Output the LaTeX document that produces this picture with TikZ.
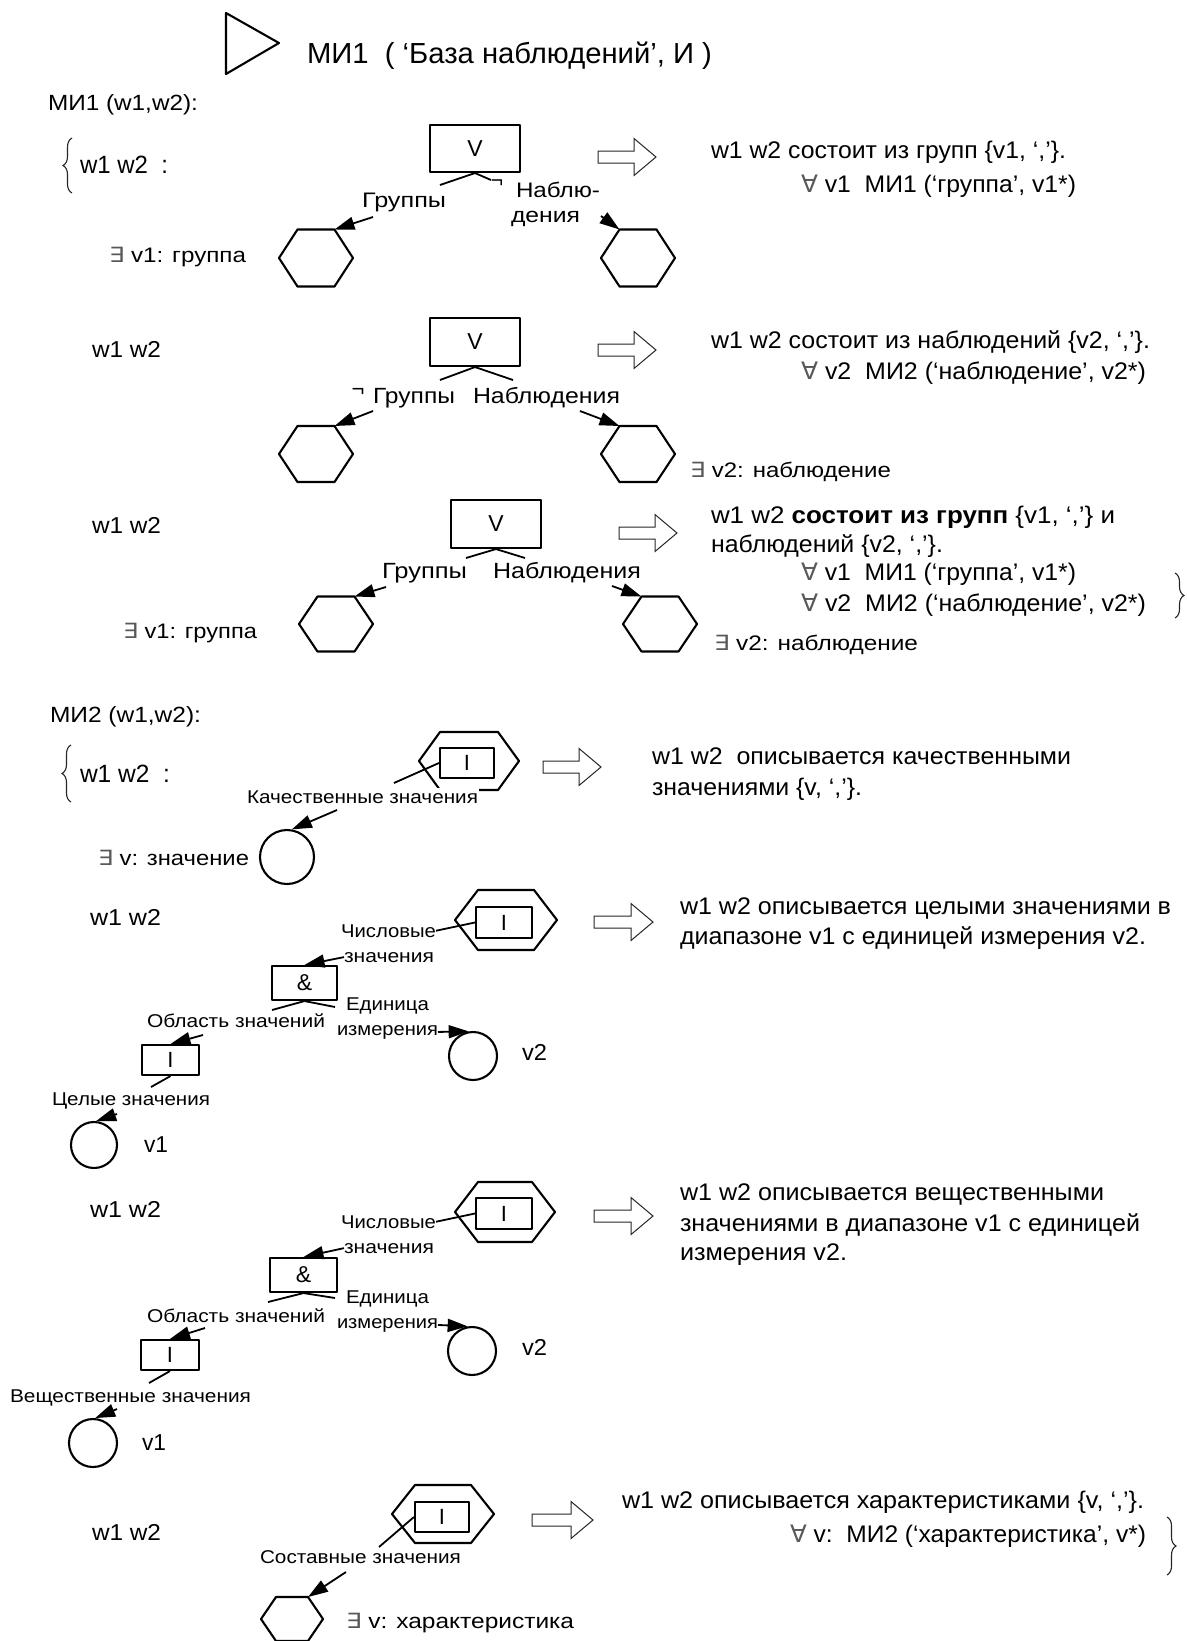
\documentclass[tikz,border=0pt]{standalone}
\usepackage{graphicx}
\usepackage{fontspec}
\setmainfont{Liberation Sans}
\newfontfamily\djvfont{DejaVu Sans}
\usetikzlibrary{arrows.meta,calc,decorations.pathreplacing}

\newcommand\myfs[1]{\fontsize{#1}{#1}\selectfont}
\newcommand\mytx[2]{\resizebox{#1pt}{\height}{#2}}
\newcommand\myEX{{\djvfont\color{black!65}∃}}
\newcommand\myFA{{\djvfont\color{black!65}∀}}

% name, cx, cy, w, h, slant
\newcommand\myhex[6]{%
  \coordinate (#1) at (#2,#3);
  \coordinate (#1-w) at ($(#1)+(-#4/2,0)$);
  \coordinate (#1-tl) at ($(#1)+(-#4/2+#6,-#5/2)$);
  \coordinate (#1-tr) at ($(#1)+(#4/2-#6,-#5/2)$);
  \coordinate (#1-e) at ($(#1)+(#4/2,0)$);
  \coordinate (#1-br) at ($(#1)+(#4/2-#6,#5/2)$);
  \coordinate (#1-bl) at ($(#1)+(-#4/2+#6,#5/2)$);
  \draw[shp] (#1-w) -- (#1-tl) -- (#1-tr) -- (#1-e) -- (#1-br) -- (#1-bl) -- cycle;}

% name, xtail, xtip, yc
\newcommand\myarr[4]{%
  \coordinate (#1) at (#2,#4);
  \draw[hollow] (#2,#4-6) -- (#3-22,#4-6) -- (#3-22,#4-18.5) -- (#3,#4)
     -- (#3-22,#4+18.5) -- (#3-22,#4+6) -- (#2,#4+6) -- cycle;}

\begin{document}
\begin{tikzpicture}[x=1pt,y=-1pt,
  shp/.style={draw=black, line width=2.1pt, line join=round},
  box/.style={shp, rectangle, inner sep=0pt},
  conn/.style={line width=1.8pt},
  arr/.style={conn, -{Triangle[length=20pt,width=13pt]}},
  hollow/.style={line width=1pt, draw=black!85, fill=white, line join=miter},
  txt/.style={inner sep=0pt, outer sep=0pt, anchor=base west},
  brc/.style={decorate, decoration={brace, amplitude=9pt}, line width=1.1pt, draw=black!85},
  circ/.style={shp, circle, inner sep=0pt}
]
\useasboundingbox (0,0) rectangle (1186,1641);
\clip (0,0) rectangle (1186,1641);

% ---------------- header
\draw[shp] (226,13) -- (226,74) -- (279,43) -- cycle;
\node[txt] (title) at (307,63) {\myfs{29}\mytx{405}{МИ1\ \ (\ ‘База наблюдений’, И\ )}};

% ---------------- section 1
\node[txt] (mi1) at (48,110) {\myfs{22}\mytx{150}{МИ1 (w1,w2):}};
\draw[brc] (72,193) -- (72,138);
\node[txt] (w1a) at (80,173) {\myfs{25}\mytx{88}{w1 w2\ \ :}};
\node[box, minimum width=90, minimum height=47] (V1) at (475,148.5) {\myfs{23}V};
\coordinate (V1l) at (440,185);
\coordinate (V1r) at (491,180);
\draw[conn] (V1.south) -- (V1l);
\draw[conn] (V1.south) -- (V1r);
\node[txt] (g1) at (362,207) {\myfs{21}\mytx{84}{Группы}};
\node[inner sep=0pt] (neg1) at (497,184) {\myfs{21}¬};
\node[txt] (n1a) at (516,197) {\myfs{21}\mytx{84}{Наблю-}};
\node[txt] (n1b) at (511,222) {\myfs{21}\mytx{69}{дения}};
\myhex{H1L}{316}{258}{74}{57}{18.5}
\myhex{H1R}{638}{258}{74}{57}{18.5}
\coordinate (a1s) at (373,217);
\draw[arr] (a1s) -- (H1L-tr);
\coordinate (a1t) at (601,216);
\draw[arr] (a1t) -- (H1R-tl);
\node[txt] (e1) at (109,262) {\myfs{21}\mytx{137}{\myEX\ v1: группа}};
\myarr{A1}{598}{656}{157}
\node[txt] (r1a) at (711,158) {\myfs{24}\mytx{355}{w1 w2 состоит из групп \{v1, ‘,’\}.}};
\node[txt] (r1b) at (801,192) {\myfs{24}\mytx{275}{\myFA\ v1\ \ МИ1 (‘группа’, v1*)}};

% ---------------- section 2
\node[txt] (w2) at (92,357) {\myfs{23}\mytx{69}{w1 w2}};
\node[box, minimum width=90, minimum height=48] (V2) at (475,342) {\myfs{23}V};
\coordinate (V2l) at (440,380);
\coordinate (V2r) at (513,380);
\draw[conn] (V2.south) -- (V2l);
\draw[conn] (V2.south) -- (V2r);
\node[inner sep=0pt] (neg2) at (358,392) {\myfs{22}¬};
\node[txt] (g2) at (373,403) {\myfs{22}\mytx{82}{Группы}};
\node[txt] (n2) at (473,403) {\myfs{22}\mytx{147}{Наблюдения}};
\myhex{H2L}{316}{454}{74}{56}{18.5}
\myhex{H2R}{638}{454}{74}{56}{18.5}
\coordinate (a2s) at (373,411);
\draw[arr] (a2s) -- (H2L-tr);
\coordinate (a2t) at (580,411);
\draw[arr] (a2t) -- (H2R-tl);
\node[txt] (e2) at (690,477) {\myfs{21}\mytx{201}{\myEX\ v2: наблюдение}};
\myarr{A2}{598}{656}{350}
\node[txt] (r2a) at (711,348) {\myfs{24}\mytx{439}{w1 w2 состоит из наблюдений \{v2, ‘,’\}.}};
\node[txt] (r2b) at (801,379) {\myfs{24}\mytx{345}{\myFA\ v2\ \ МИ2 (‘наблюдение’, v2*)}};

% ---------------- section 3
\node[txt] (w3) at (92,533) {\myfs{23}\mytx{69}{w1 w2}};
\node[box, minimum width=90, minimum height=48] (V3) at (496,524) {\myfs{23}V};
\coordinate (V3l) at (466,558);
\coordinate (V3r) at (525,558);
\draw[conn] (V3.south) -- (V3l);
\draw[conn] (V3.south) -- (V3r);
\node[txt] (g3) at (382,578) {\myfs{22}\mytx{85}{Группы}};
\node[txt] (n3) at (493,578) {\myfs{22}\mytx{148}{Наблюдения}};
\myhex{H3L}{336}{624}{74}{55}{18.5}
\myhex{H3R}{660}{624}{74}{55}{18.5}
\coordinate (a3s) at (386,587);
\draw[arr] (a3s) -- (H3L-tr);
\coordinate (a3t) at (612,586);
\draw[arr] (a3t) -- (H3R-tl);
\node[txt] (e3a) at (123,638) {\myfs{21}\mytx{134}{\myEX\ v1: группа}};
\node[txt] (e3b) at (714,650) {\myfs{21}\mytx{204}{\myEX\ v2: наблюдение}};
\myarr{A3}{619}{677}{533}
\node[txt] (r3a) at (711,523) {\myfs{24}\mytx{404}{w1 w2 \textbf{состоит из групп} \{v1, ‘,’\} и}};
\node[txt] (r3b) at (711,552) {\myfs{24}\mytx{232}{наблюдений \{v2, ‘,’\}.}};
\node[txt] (r3c) at (801,580) {\myfs{24}\mytx{275}{\myFA\ v1\ \ МИ1 (‘группа’, v1*)}};
\node[txt] (r3d) at (801,611) {\myfs{24}\mytx{345}{\myFA\ v2\ \ МИ2 (‘наблюдение’, v2*)}};
\draw[brc] (1175,573) -- (1175,618);

% ---------------- MI2 header, qualitative
\node[txt] (mi2) at (50,722) {\myfs{22}\mytx{151}{МИ2 (w1,w2):}};
\draw[brc] (71,802) -- (71,745);
\node[txt] (w4a) at (80,782) {\myfs{25}\mytx{90}{w1 w2\ \ :}};
\myhex{HK}{469}{761}{100}{58}{21}
\node[box, minimum width=54, minimum height=30] (IK) at (467,763) {\myfs{22}I};
\coordinate (kL) at (394,783);
\draw[conn] (IK.west) -- (kL);
\node[txt, fill=white, inner ysep=2.5pt, inner xsep=1pt] (kq) at (246,803) {\myfs{18.5}\mytx{231}{Качественные значения}};
\node[circ, minimum size=54] (cK) at (287,857) {};
\coordinate (ks) at (337,810);
\draw[arr] (ks) -- (cK.80);
\node[txt] (ev) at (98,865) {\myfs{21}\mytx{151}{\myEX\ v: значение}};
\myarr{AK}{543}{601}{767}
\node[txt] (rk1) at (652,764) {\myfs{24}\mytx{419}{w1 w2\ \ описывается качественными}};
\node[txt] (rk2) at (652,795) {\myfs{24}\mytx{210}{значениями \{v, ‘,’\}.}};

% ---------------- integer values
\node[txt] (w5) at (90,925) {\myfs{23}\mytx{71}{w1 w2}};
\myhex{HC}{506}{920}{102}{60}{23}
\node[box, minimum width=56, minimum height=31] (IC) at (504,922.5) {\myfs{22}I};
\node[txt] (ch4) at (341,937) {\myfs{18.5}\mytx{95}{Числовые}};
\draw[conn] (ch4.east) -- (IC.west);
\node[txt] (zn4) at (344,962) {\myfs{18.5}\mytx{90}{значения}};
\node[box, minimum width=65, minimum height=34] (and4) at (304.5,983) {\myfs{23}\&};
\draw[arr] (zn4.west) -- (and4.north);
\coordinate (and4l) at (272,1010);
\coordinate (and4r) at (335,1007);
\draw[conn] (and4.south) -- (and4l);
\draw[conn] (and4.south) -- (and4r);
\node[txt] (ed4) at (346,1010) {\myfs{18.5}\mytx{83}{Единица}};
\node[txt] (iz4) at (337,1035) {\myfs{18.5}\mytx{101}{измерения}};
\node[circ, minimum size=48] (c42) at (473,1056) {};
\draw[arr] (iz4.east) -- (c42.100);
\node[txt] (v24) at (522,1060) {\myfs{23}\mytx{25}{v2}};
\node[txt] (ob4) at (147,1027) {\myfs{18.5}\mytx{178}{Область значений}};
\node[box, minimum width=57, minimum height=30] (I4) at (170.5,1060) {\myfs{22}I};
\coordinate (ob4s) at (203,1035);
\draw[arr] (ob4s) -- (I4.north);
\coordinate (I4l) at (151,1087);
\draw[conn] (I4.south) -- (I4l);
\node[txt] (cz4) at (52,1105) {\myfs{18.5}\mytx{158}{Целые значения}};
\node[circ, minimum size=46] (c41) at (94,1145) {};
\coordinate (cz4s) at (117,1114);
\draw[arr] (cz4s) -- (c41.85);
\node[txt] (v14) at (144,1152) {\myfs{23}\mytx{24}{v1}};
\myarr{AC}{594}{653}{922}
\node[txt] (rc1) at (680,914) {\myfs{24}\mytx{491}{w1 w2 описывается целыми значениями в}};
\node[txt] (rc2) at (680,944) {\myfs{24}\mytx{466}{диапазоне v1 с единицей измерения v2.}};

% ---------------- real values
\node[txt] (w6) at (90,1217) {\myfs{23}\mytx{71}{w1 w2}};
\myhex{HV}{505}{1212}{100}{60}{23}
\node[box, minimum width=56, minimum height=31] (IV) at (504,1213.5) {\myfs{22}I};
\node[txt] (ch5) at (341,1228) {\myfs{18.5}\mytx{95}{Числовые}};
\draw[conn] (ch5.east) -- (IV.west);
\node[txt] (zn5) at (344,1253) {\myfs{18.5}\mytx{90}{значения}};
\node[box, minimum width=67, minimum height=34] (and5) at (303.5,1275) {\myfs{23}\&};
\draw[arr] (zn5.west) -- (and5.north);
\coordinate (and5l) at (268,1302);
\coordinate (and5r) at (335,1298);
\draw[conn] (and5.south) -- (and5l);
\draw[conn] (and5.south) -- (and5r);
\node[txt] (ed5) at (346,1303) {\myfs{18.5}\mytx{83}{Единица}};
\node[txt] (iz5) at (337,1328) {\myfs{18.5}\mytx{101}{измерения}};
\node[circ, minimum size=48] (c52) at (472,1351) {};
\draw[arr] (iz5.east) -- (c52.100);
\node[txt] (v25) at (522,1355) {\myfs{23}\mytx{25}{v2}};
\node[txt] (ob5) at (147,1322) {\myfs{18.5}\mytx{178}{Область значений}};
\node[box, minimum width=58, minimum height=30] (I5) at (170,1355) {\myfs{22}I};
\coordinate (ob5s) at (205,1328);
\draw[arr] (ob5s) -- (I5.north);
\coordinate (I5l) at (149,1383);
\draw[conn] (I5.south) -- (I5l);
\node[txt] (vz5) at (10,1402) {\myfs{18.5}\mytx{241}{Вещественные значения}};
\node[circ, minimum size=48] (c51) at (93,1443) {};
\coordinate (vz5s) at (117,1409);
\draw[arr] (vz5s) -- (c51.85);
\node[txt] (v15) at (142,1450) {\myfs{23}\mytx{24}{v1}};
\myarr{AV}{594}{653}{1216}
\node[txt] (rv1) at (680,1200) {\myfs{24}\mytx{424}{w1 w2 описывается вещественными}};
\node[txt] (rv2) at (680,1231) {\myfs{24}\mytx{460}{значениями в диапазоне v1 с единицей}};
\node[txt] (rv3) at (680,1260) {\myfs{24}\mytx{167}{измерения v2.}};

% ---------------- composite values
\node[txt] (w7) at (92,1540) {\myfs{23}\mytx{69}{w1 w2}};
\myhex{HS}{443}{1514}{102}{58}{23}
\node[box, minimum width=54, minimum height=30] (IS) at (442,1517) {\myfs{22}I};
\coordinate (ISl) at (379,1547);
\draw[conn] (IS.west) -- (ISl);
\node[txt] (sz) at (260,1563) {\myfs{18.5}\mytx{201}{Составные значения}};
\myhex{H6}{292}{1619}{62}{44}{15}
\coordinate (szs) at (346,1572);
\draw[arr] (szs) -- (H6-tr);
\node[txt] (ex6) at (346,1628) {\myfs{21}\mytx{228}{\myEX\ v: характеристика}};
\myarr{AS}{532}{593}{1520}
\node[txt] (rx1) at (622,1508) {\myfs{24}\mytx{522}{w1 w2 описывается характеристиками \{v, ‘,’\}.}};
\node[txt] (rx2) at (790,1542) {\myfs{24}\mytx{356}{\myFA\ v:\ \ МИ2 (‘характеристика’, v*)}};
\draw[brc] (1167,1517) -- (1167,1575);
\end{tikzpicture}
\end{document}
